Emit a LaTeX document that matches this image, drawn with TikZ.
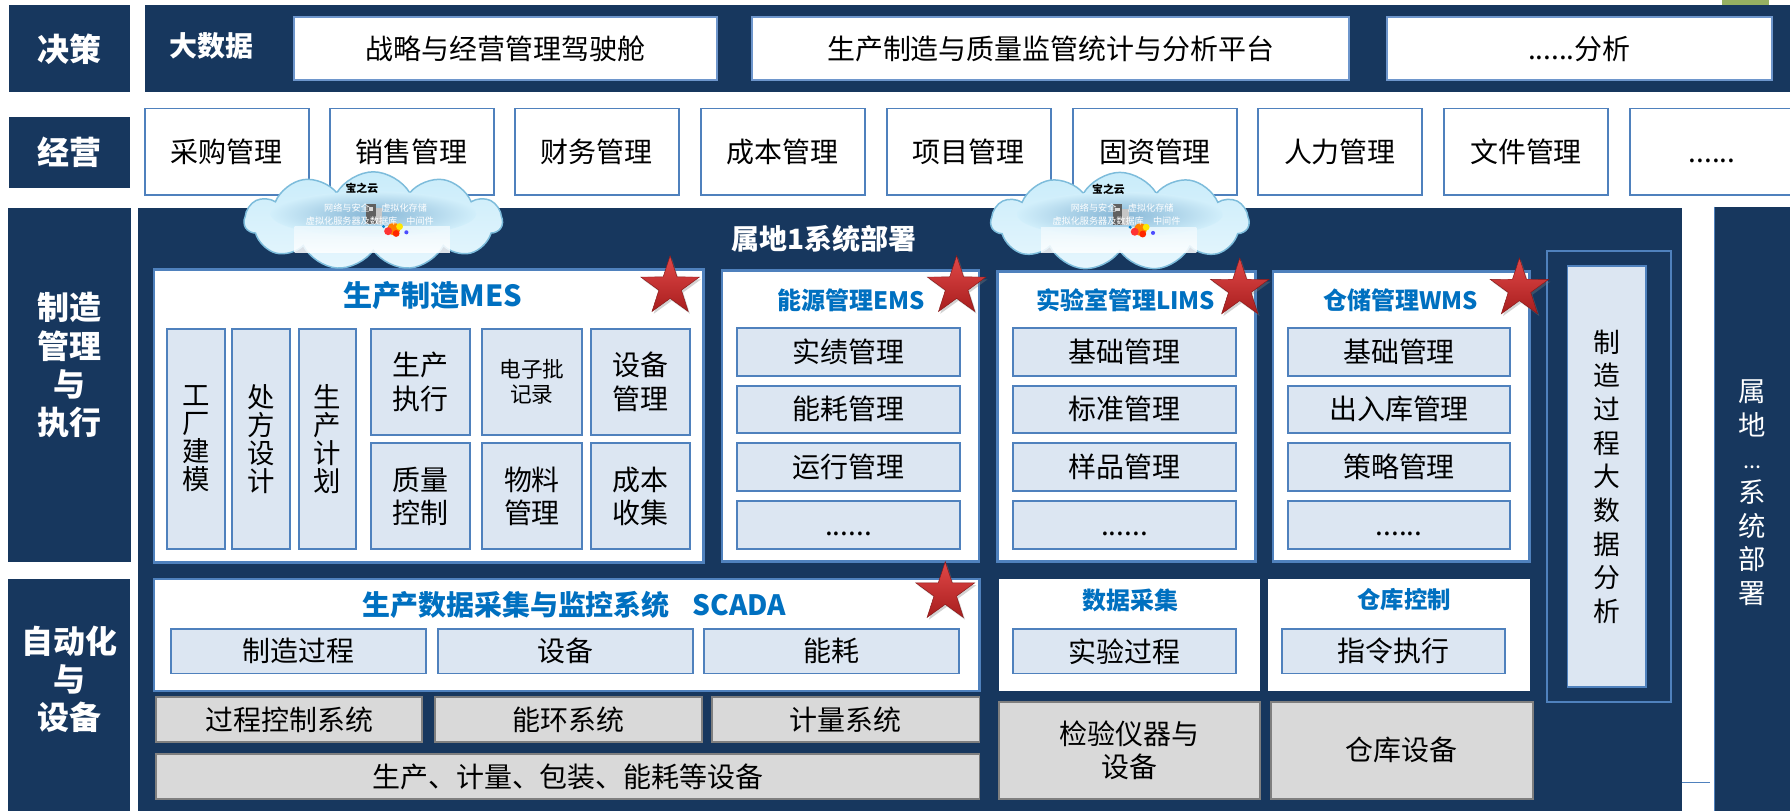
\documentclass[tikz,border=0pt]{standalone}
\usepackage{fontspec}
\setmainfont{Noto Sans CJK SC}
\usetikzlibrary{shapes.geometric,shapes.symbols,shadows,calc}

\definecolor{navy}{HTML}{17375E}
\definecolor{edgeblue}{HTML}{4F81BD}
\definecolor{topedge}{HTML}{6E96CC}
\definecolor{lightbox}{HTML}{DCE6F2}
\definecolor{titleblue}{HTML}{0070C0}
\definecolor{graybox}{HTML}{D9D9D9}
\definecolor{grayedge}{HTML}{7F7F7F}
\definecolor{starhi}{HTML}{E04848}
\definecolor{starlo}{HTML}{A81E1E}
\definecolor{cloudtop}{HTML}{C9ECFA}
\definecolor{cloudbot}{HTML}{E6F6FD}
\definecolor{cloudedge}{HTML}{7DBCDB}
\definecolor{cloudband}{HTML}{86B6D6}

\newcommand\setfs[2]{\fontsize{#1}{#2}\selectfont}

% rectangle node from its top-left and bottom-right corners
\newcommand\blk[8][]{%
  \pgfmathsetmacro\bw{#6-#4}\pgfmathsetmacro\bh{#7-#5}%
  \node[#2,anchor=north west,minimum width=\bw pt,minimum height=\bh pt,
        inner sep=0pt,outer sep=0pt,align=center,#1] (#3) at (#4,#5) {#8};}

% red star marker
\newcommand\starat[3]{%
  \node[star,star points=5,star point ratio=2.6,minimum size=54pt,inner sep=0pt,
        top color=starhi,bottom color=starlo,draw=starlo!80!black,line width=0.4pt,
        drop shadow={opacity=0.35,shadow xshift=1.5pt,shadow yshift=-2pt}] (#1) at (#2,#3) {};}

% private cloud emblem
\newcommand\cloudat[3]{%
  \node[cloud,cloud puffs=11,cloud puff arc=120,aspect=2.7,minimum width=226pt,
        minimum height=86pt,inner sep=0pt,top color=cloudtop,bottom color=cloudbot,
        draw=cloudedge,line width=1.3pt] (#1) at (#2,#3) {};
  \begin{scope}[shift={(#2,#3)}]
    \shade[inner color=cloudband,outer color=cloudtop!70!cloudbot] (0,-6) ellipse [x radius=90, y radius=20];
    \shade[top color=cloudbot!70!white,bottom color=white,opacity=0.85] (-69,5) rectangle (67,27.5);
    \fill[gray!75!black] (-6,-15) rectangle (2,3);
    \fill[gray!45] (2,-11) rectangle (8,3);
    \fill[gray!30] (-4,-12) rectangle (0,-9);
    \fill[orange] (18,7) circle (5.5);
    \fill[red!80] (13,9) circle (3.5);
    \fill[yellow!90!orange] (23,5) circle (3);
    \fill[red!70!orange] (20,11) circle (3);
    \fill[blue!70] (29,10) circle (1.8);
    \fill[cyan!70!blue] (9,5) circle (1.5);
    \node[font=\setfs{9.5}{10}\bfseries,text=black,inner sep=0pt] (#1-t) at (-10,-28.5) {宝之云};
    \node[font=\setfs{8}{9},text=white,inner sep=0pt] (#1-a) at (2,-11.5) {网络与安全\hspace{10pt}虚拟化存储};
    \node[font=\setfs{8}{9},text=white,inner sep=0pt] (#1-b) at (-3,0) {虚拟化服务器及数据库\hspace{8pt}中间件};
  \end{scope}}

\tikzset{
  band/.style={fill=navy,draw=none},
  lbl/.style={fill=navy,draw=none},
  lbltext/.style={text=white,font=\setfs{28}{33.6}\bfseries,align=center,inner sep=0pt},
  bandtext/.style={text=white,font=\setfs{24.5}{28}\bfseries,inner sep=0pt},
  topbox/.style={fill=white,draw=topedge,line width=1.6pt,font=\setfs{24.5}{29}},
  bizbox/.style={fill=white,draw=edgeblue,line width=1.6pt,font=\setfs{24.5}{29}},
  sysbox/.style={fill=white,draw=edgeblue,line width=2.4pt},
  plainbox/.style={fill=white,draw=none},
  itembox/.style={fill=lightbox,draw=edgeblue,line width=1.6pt,font=\setfs{24.5}{29}},
  colbox/.style={itembox,font=\setfs{24}{24.5}},
  pairbox/.style={itembox,font=\setfs{24.5}{29}},
  greybox/.style={fill=graybox,draw=grayedge,line width=1.6pt,font=\setfs{24.5}{29}},
  systitle/.style={text=titleblue,font=\setfs{21}{24}\bfseries,inner sep=0pt},
  vtext/.style={text=black,font=\setfs{23.5}{29.5},align=center,inner sep=0pt},
}

\begin{document}
\begin{tikzpicture}[x=1pt,y=-1pt]
\useasboundingbox (0,0) rectangle (1568,710.4);

% ---------------- decision layer ----------------
\blk{lbl}{lDec}{7.5}{4.4}{114}{81}{}
\node[lbltext] (lDecT) at (lDec) {决策};
\blk{band}{decBar}{127}{4.4}{1572}{81}{}
\fill[fill={rgb,255:red,150;green,176;blue,98}] (1508,0) rectangle (1550,4.4);
\node[bandtext] (bigdata) at (185,40) {大数据};
\blk{topbox}{d1}{257.5}{15}{628}{70}{战略与经营管理驾驶舱}
\blk{topbox}{d2}{659}{15}{1182}{70}{生产制造与质量监管统计与分析平台}
\blk{topbox}{d3}{1215}{15}{1552}{70}{......分析}

% ---------------- operations layer ----------------
\blk{lbl}{lOp}{7.5}{102.6}{114}{164.8}{}
\node[lbltext] (lOpT) at (lOp) {经营};
\blk{bizbox}{b1}{127}{95}{270.5}{171}{采购管理}
\blk{bizbox}{b2}{289}{95}{432.5}{171}{销售管理}
\blk{bizbox}{b3}{451}{95}{594.5}{171}{财务管理}
\blk{bizbox}{b4}{614}{95}{757.5}{171}{成本管理}
\blk{bizbox}{b5}{777}{95}{920.5}{171}{项目管理}
\blk{bizbox}{b6}{940}{95}{1083.5}{171}{固资管理}
\blk{bizbox}{b7}{1102}{95}{1245.5}{171}{人力管理}
\blk{bizbox}{b8}{1265}{95}{1408.5}{171}{文件管理}
\blk{bizbox}{b9}{1428}{95}{1571.5}{171}{\vphantom{管}......}

% ---------------- manufacturing / automation ----------------
\blk{lbl}{lMfg}{6.7}{182}{115}{492}{}
\node[lbltext] (lMfgT) at (61,320) {制造\\管理\\与\\执行};
\blk{lbl}{lAuto}{6.7}{507}{114}{712}{}
\node[lbltext] (lAutoT) at (61,595) {自动化\\与\\设备};

\blk{band}{panel}{121}{182}{1473}{712}{}
\blk{band}{site}{1502}{181}{1572}{712}{}
\draw[edgeblue,line width=1pt] (site.north west) -- (site.south west);
\coordinate (tickEnd) at (1498,685.6);
\draw[edgeblue,line width=1.2pt] (panel.east |- tickEnd) -- (tickEnd);
\node[text=white,font=\setfs{24}{29.5},align=center,inner sep=0pt] (siteT) at (1535,431.5)
  {属\\地\\{\setfs{19}{29.5}...}\\系\\统\\部\\署};

\node[bandtext] (siteTitle) at (722,209) {属地1系统部署};

% big-data analysis column
\blk[draw=edgeblue,line width=1.6pt]{band}{bdOuter}{1355}{220}{1464}{615}{}
\blk{itembox}{bdInner}{1373}{233}{1442}{602}{}
\node[vtext] (bdT) at (bdInner) {制\\造\\过\\程\\大\\数\\据\\分\\析};

% MES
\blk{sysbox}{mes}{135}{236}{616}{493}{}
\node[systitle,font=\setfs{25.5}{28}\bfseries] (mesT) at (379,259) {生产制造MES};
\blk{colbox}{m1}{146}{288}{197}{481}{工\\厂\\建\\模}
\blk{colbox}{m2}{203}{288}{254}{481}{处\\方\\设\\计}
\blk{colbox}{m3}{262}{288}{312}{481}{生\\产\\计\\划}
\blk{pairbox}{m4}{325}{288}{412}{381}{生产\\执行}
\blk[font=\setfs{19}{22}]{itembox}{m5}{422}{288}{510}{381}{电子批\\记录}
\blk{pairbox}{m6}{517.5}{288}{604.5}{381}{设备\\管理}
\blk{pairbox}{m7}{325}{388}{412}{481}{质量\\控制}
\blk{pairbox}{m8}{422}{388}{510}{481}{物料\\管理}
\blk{pairbox}{m9}{517.5}{388}{604.5}{481}{成本\\收集}

% EMS
\blk{sysbox}{ems}{632.5}{237}{857.6}{492}{}
\node[systitle] (emsT) at (745.6,263) {能源管理EMS};
\blk{itembox}{e1}{645.6}{287}{841}{329}{实绩管理}
\blk{itembox}{e2}{645.6}{338}{841}{379}{能耗管理}
\blk{itembox}{e3}{645.6}{388}{841}{430}{运行管理}
\blk{itembox}{e4}{645.6}{439}{841}{481}{\vphantom{管}......}

% LIMS
\blk{sysbox}{lims}{874}{238}{1100}{492}{}
\node[systitle] (limsT) at (986,263) {实验室管理LIMS};
\blk{itembox}{l1}{887}{287}{1083}{329}{基础管理}
\blk{itembox}{l2}{887}{338}{1083}{379}{标准管理}
\blk{itembox}{l3}{887}{388}{1083}{430}{样品管理}
\blk{itembox}{l4}{887}{439}{1083}{481}{\vphantom{管}......}

% WMS
\blk{sysbox}{wms}{1115}{238}{1340}{492}{}
\node[systitle] (wmsT) at (1227,263) {仓储管理WMS};
\blk{itembox}{w1}{1128}{287}{1323}{329}{基础管理}
\blk{itembox}{w2}{1128}{338}{1323}{379}{出入库管理}
\blk{itembox}{w3}{1128}{388}{1323}{430}{策略管理}
\blk{itembox}{w4}{1128}{439}{1323}{481}{\vphantom{管}......}

% SCADA and field level
\blk[line width=1.8pt]{sysbox}{scada}{135}{507}{858}{605}{}
\node[systitle,font=\setfs{24.5}{28}\bfseries] (scadaT) at (503,530) {生产数据采集与监控系统\hspace{20pt}SCADA};
\blk{itembox}{s1}{150}{551}{373}{590}{制造过程}
\blk{itembox}{s2}{384}{551}{607}{590}{设备}
\blk{itembox}{s3}{617}{551}{840}{590}{能耗}

\blk{plainbox}{daq}{875}{507}{1104}{605}{}
\node[systitle] (daqT) at (990,525.6) {数据采集};
\blk{itembox}{daq1}{887}{551}{1083}{590}{实验过程}
\blk{plainbox}{wctl}{1111}{507}{1340}{605}{}
\node[systitle,font=\setfs{20.5}{24}\bfseries] (wctlT) at (1230,525.6) {仓库控制};
\blk{itembox}{wctl1}{1123}{551}{1318}{590}{指令执行}

\blk{greybox}{g1}{137}{610.6}{370}{650}{过程控制系统}
\blk{greybox}{g2}{381}{610.6}{615}{650}{能环系统}
\blk{greybox}{g3}{624}{610.6}{858}{650}{计量系统}
\blk{greybox}{g4}{137}{660.5}{858}{700}{生产、计量、包装、能耗等设备}
\blk{greybox}{g5}{875}{614.6}{1104}{700}{检验仪器与\\设备}
\blk{greybox}{g6}{1113}{614.6}{1343}{700}{仓库设备}

% clouds straddling the operations layer
\cloudat{cloudA}{327}{193.5}
\cloudat{cloudB}{981}{194}

% key-system markers
\starat{starMES}{587}{251}
\starat{starEMS}{838}{251}
\starat{starLIMS}{1086}{253}
\starat{starWMS}{1331}{253}
\starat{starSCADA}{828}{519}
\end{tikzpicture}
\end{document}
